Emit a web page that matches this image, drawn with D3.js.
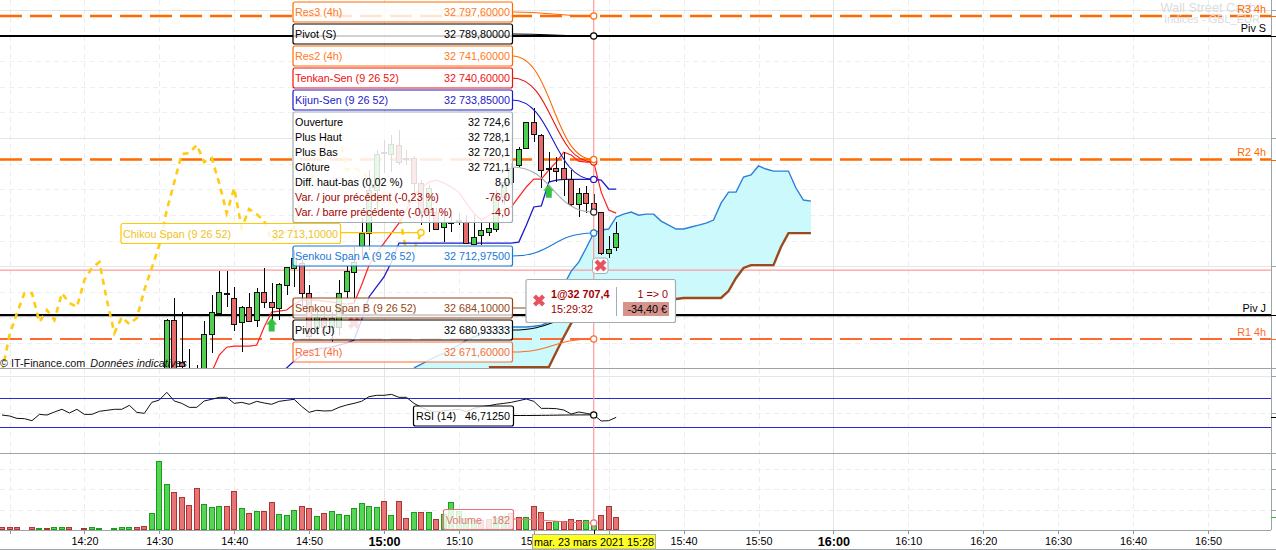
<!DOCTYPE html>
<html><head><meta charset="utf-8">
<script src="https://cdn.jsdelivr.net/npm/d3@7/dist/d3.min.js"></script>
<style>
html,body{margin:0;padding:0;background:#fff;overflow:hidden}
svg{display:block;font-family:"Liberation Sans",Arial,sans-serif}
text{font-size:10.8px}
</style></head><body><svg id="c" width="1276" height="550"></svg>
<script>
// ---------- DATA ----------
const levelR3=32797.6, levelPivS=32789.8, levelR2=32741.6, levelPivJ=32680.93333, levelR1=32671.6, levelPink=32698.5;
const candleStart=31; // minutes after 14:00
const candleOpen=[32653.6,32679.0,32662.6,32656.3,32657.1,32657.5,32673.5,32681.7,32689.1,32687.6,32678.2,32684.1,32679.0,32689.9,32686.0,32683.7,32692.6,32699.3,32701.2,32689.5,32676.3,32679.8,32676.3,32676.3,32690.3,32697.7,32707.9,32712.9,32729.7,32744.1,32743.8,32747.3,32742.2,32742.2,32732.4,32721.1,32721.1,32715.3,32717.2,32718.0,32717.2,32708.6,32712.1,32713.3,32714.5,32727.0,32732.8,32739.5,32746.1,32756.2,32751.2,32738.3,32738.3,32738.3,32734.0,32724.2,32728.5,32724.6,32721.1,32705.1,32707.5];
const candleHigh=[32679.4,32687.6,32682.1,32667.7,32661.4,32678.6,32688.8,32698.1,32698.1,32691.9,32684.5,32689.5,32691.5,32699.3,32693.4,32693.4,32699.7,32706.3,32702.4,32692.6,32682.9,32682.9,32682.1,32694.6,32700.0,32707.5,32718.8,32737.5,32745.3,32749.2,32751.2,32753.1,32745.3,32743.0,32733.6,32731.7,32722.7,32721.9,32719.9,32720.7,32719.9,32719.9,32717.2,32717.2,32729.7,32734.4,32740.2,32746.5,32756.2,32761.7,32751.6,32744.5,32742.6,32744.5,32737.5,32730.5,32731.3,32728.1,32721.1,32711.8,32717.2];
const candleLow=[32651.7,32649.7,32651.7,32655.5,32654.8,32653.6,32666.1,32680.9,32684.1,32674.7,32666.5,32678.6,32676.3,32683.7,32679.0,32679.0,32688.8,32691.9,32684.1,32671.2,32673.1,32673.9,32670.4,32673.1,32687.6,32685.6,32703.2,32706.3,32721.9,32736.3,32736.7,32739.5,32739.5,32728.5,32716.0,32713.3,32714.5,32709.4,32713.3,32716.0,32708.6,32708.2,32708.2,32711.8,32713.3,32723.8,32731.7,32738.7,32746.1,32748.4,32730.5,32732.8,32732.8,32727.4,32723.5,32719.2,32720.7,32720.1,32704.4,32703.2,32705.9];
const candleClose=[32679.0,32653.6,32661.0,32658.7,32658.7,32673.5,32682.1,32689.9,32689.5,32677.4,32684.1,32678.6,32689.9,32686.0,32684.1,32693.0,32699.7,32703.2,32689.5,32672.7,32680.1,32676.3,32679.8,32689.5,32698.1,32701.6,32712.9,32729.7,32743.8,32744.5,32747.7,32740.6,32742.4,32732.4,32721.1,32730.5,32714.5,32717.2,32717.2,32717.6,32709.0,32711.4,32714.1,32714.9,32727.8,32732.8,32738.3,32745.7,32756.2,32751.6,32737.5,32738.4,32737.1,32734.0,32724.2,32728.5,32724.6,32721.1,32705.1,32706.7,32712.9];

const tenkanStart=37;
const tenkan=[32658.7,32665.3,32668.4,32668.8,32668.8,32668.8,32669.2,32676.3,32682.1,32682.5,32682.9,32685.2,32686.8,32686.8,32686.8,32686.4,32686.0,32685.6,32685.2,32685.6,32692.6,32700.4,32705.1,32709.0,32712.9,32716.8,32721.9,32727.8,32730.5,32732.8,32733.6,32732.4,32730.9,32728.9,32724.6,32720.7,32718.0,32719.9,32721.1,32721.9,32723.1,32727.0,32730.9,32734.0,32734.0,32737.5,32740.6,32744.5,32743.4,32741.0,32740.6,32740.6,32728.9,32721.9,32720.7];
const kijunStart=46;
const kijun=[32657.5,32660.3,32663.0,32665.3,32667.3,32667.7,32668.0,32668.4,32669.2,32670.0,32671.2,32679.0,32688.0,32691.9,32695.8,32701.6,32709.0,32709.0,32709.0,32709.0,32709.0,32709.0,32709.0,32709.0,32709.0,32709.0,32709.0,32709.0,32709.0,32709.0,32709.0,32709.0,32709.4,32716.0,32723.1,32723.5,32732.8,32733.6,32733.85,32733.85,32733.85,32733.85,32733.85,32733.6,32730.1,32730.1];
const senkouStart=64;
const senkouA=[32660.3,32661.8,32663.4,32664.9,32666.1,32667.7,32669.2,32671.2,32672.4,32673.5,32674.3,32675.1,32675.5,32676.3,32676.3,32676.3,32676.6,32677.0,32678.2,32682.1,32692.6,32698.1,32701.6,32707.1,32712.975,32714.1,32714.5,32719.2,32720.3,32721.1,32719.9,32720.3,32720.3,32717.6,32716.0,32714.5,32714.5,32715.3,32716.0,32716.8,32718.0,32724.6,32728.9,32728.9,32734.8,32735.6,32739.1,32737.9,32737.1,32737.1,32737.1,32730.5,32725.8,32725.4];
const senkouB=[32658.7,32658.7,32658.7,32658.7,32658.7,32658.7,32658.7,32658.7,32658.7,32658.7,32660.6,32660.6,32660.6,32660.6,32660.6,32660.6,32660.6,32660.6,32660.6,32666.5,32672.4,32677.8,32680.5,32682.1,32684.1,32684.1,32684.1,32684.1,32684.1,32684.1,32684.1,32684.1,32684.1,32684.1,32685.6,32687.2,32687.6,32687.6,32687.6,32687.6,32687.6,32687.6,32690.3,32695.4,32699.3,32700.4,32700.4,32700.4,32700.4,32707.5,32712.9,32712.9,32712.9,32712.9];
const chikouStart=9;
const chikou=[32658.7,32673.1,32681.7,32689.5,32689.5,32678.2,32682.9,32679.0,32689.5,32685.6,32684.1,32694.6,32699.3,32701.6,32686.8,32673.9,32680.1,32677.4,32679.8,32690.7,32699.3,32708.2,32721.9,32732.8,32743.8,32744.1,32747.3,32740.6,32742.2,32732.4,32720.7,32730.5,32714.9,32722.3,32720.3,32717.6,32709.8,32711.4,32713.7,32714.9,32727.8,32732.8,32738.3,32745.7,32756.2,32751.6,32737.5,32738.4,32737.1,32734.0,32724.2,32728.5,32724.6,32721.1,32705.1,32706.7,32713.1];

const rsiStart=9;
const rsi=[46.5,45.2,41.9,41.5,38.7,47.4,46.5,50.7,54.4,49.3,54.4,47.4,47.4,51.6,53,54.4,54.4,59.9,50.2,48.8,64,67.2,77.8,65.9,62.6,57.1,57.1,65.9,68.2,70.9,70.9,62.6,64,61.3,65.4,63.1,61.3,65.4,66.8,68.2,58.5,50.2,53,52.1,52.5,57.1,60.3,62.6,65.4,71.8,73.7,73.7,75,70.9,70.9,62.6,57.1,52.5,51.1,52.5,53.4,54.4,51.1,55.7,58,59.4,61.3,62.6,64,66.3,68.6,65.4,55.7,55.7,55.3,53.4,47.9,50.7,48.8,46.7125,38.3,38.7,43.3];
const rsiBands=[70,30];
const volumeStart=9;
const volume=[70,70,70,20,70,45,45,70,70,70,20,45,70,45,20,45,70,70,70,105,435,1800,1190,990,850,650,1085,670,590,625,625,1030,565,435,485,485,720,410,380,510,625,565,355,435,485,410,380,565,695,615,590,745,380,745,305,460,460,460,280,410,720,485,305,260,260,285,310,370,450,340,340,615,460,200,225,225,280,250,250,182,380,615,330];
const volumeDir="rrrrrgrggrgrggggggrrgggrrrrgggrrgrgrrgggrrgrgggggggrgrrgrgrgggggrrggrrgrrrgrrrgg".split("");
const tickMinutes=d3.range(10,171,10);
const tickLabels=["","14:20","14:30","14:40","14:50","15:00","15:10","15:20","","15:40","15:50","16:00","16:10","16:20","16:30","16:40","16:50"];
const priceGridMajor=[32800,32750,32700];
const priceGridMinor=[32790,32780,32770,32760,32740,32730,32720,32710,32690,32680,32670];
const rsiGridSolid=[100], rsiGridDash=[50];
const volGrid=[520,1066,1586];
const ohlcRows=[["Ouverture","32 724,6"],["Plus Haut","32 728,1"],["Plus Bas","32 720,1"],["Clôture","32 721,1"],["Diff. haut-bas (0,02 %)","8,0"],["Var. / jour précédent (-0,23 %)","-76,0"],["Var. / barre précédente (-0,01 %)","-4,0"]];
const cursorMinute=88, tradeMinute=89, tradePrice=32707.4, buyMinutes=[45,82], buyPrice=[32679.8,32732.0], ghostSell=[[56,32677.8]];
const closeAtCursor=32721.1, volCursor=182, rsiCursor=46.7125, senkouACursor=32712.975, senkouBCursor=32684.1, tenkanCursor=32740.6, kijunCursor=32733.85, chikouEnd=65;

// ---------- SCALES ----------
const W=1271, paneBottom=368, rsiBottom=453, volBottom=530;
const x=d3.scaleLinear([60,120],[384,833.4]);
const y=d3.scaleLinear([32797.6,32671.6],[16,339]);
const yR=d3.scaleLinear([0,100],[448.75,376.25]);
const yV=d3.scaleLinear([0,1800],[volBottom,461]);
const X=m=>Math.round(x(m));
const svg=d3.select("#c");
const defs=svg.append("defs");
defs.append("clipPath").attr("id","main").append("rect").attr("x",0).attr("y",0).attr("width",W).attr("height",paneBottom);

function hline(g,yy,color,w,dash){g.append("line").attr("x1",0).attr("x2",W).attr("y1",yy).attr("y2",yy).attr("stroke",color).attr("stroke-width",w).attr("stroke-dasharray",dash||null);}
const grid=svg.append("g").attr("shape-rendering","crispEdges");
// vertical grid
tickMinutes.forEach(m=>{
  const h=m%60===0;
  grid.append("line").attr("x1",X(m)+.5).attr("x2",X(m)+.5).attr("y1",0).attr("y2",volBottom).attr("stroke",h?"#e4e4e4":"#ececec").attr("stroke-dasharray",h?null:"5,4");
});
priceGridMajor.forEach(v=>hline(grid,Math.round(y(v))+.5,"#e6e6e6",1.5));
priceGridMinor.forEach(v=>hline(grid,Math.round(y(v))+.5,"#efefef",1,"5,4"));
rsiGridSolid.forEach(v=>hline(grid,Math.round(yR(v))+.5,"#e6e6e6",1));
rsiGridDash.forEach(v=>hline(grid,Math.round(yR(v))+.5,"#ececec",1,"5,4"));
volGrid.forEach(v=>hline(grid,Math.round(yV(v))+.5,"#ececec",1,"5,4"));

// ---------- MAIN PANE ----------
const main=svg.append("g").attr("clip-path","url(#main)");
const pts=(arr,start)=>arr.map((v,i)=>[start+i,v]);
const line=d3.line().x(d=>x(d[0])).y(d=>y(d[1]));
const area=d3.area().x((d,i)=>x(senkouStart+i)).y0((d,i)=>y(senkouB[i])).y1(d=>y(d));
main.append("path").attr("d",area(senkouA)).attr("fill","#ccf9fc");
const drawLine=(arr,start,color,w,dash)=>main.append("path").attr("d",line(pts(arr,start))).attr("fill","none").attr("stroke",color).attr("stroke-width",w).attr("stroke-dasharray",dash||null);

// levels
hline(main,y(levelR3),"#ff6a00",2.6,"22,8");
hline(main,y(levelR2),"#ff6a00",2.6,"22,8");
hline(main,y(levelR1),"#ff6a30",2,"22,8");
main.selectAll("line.k").data([levelPivS,levelPivJ]).join("line").attr("x1",0).attr("x2",W).attr("y1",d=>y(d)).attr("y2",d=>y(d)).attr("stroke","#000").attr("stroke-width",2.2);
hline(main,y(levelPink),"#ff9a9a",1.3);

drawLine(chikou,chikouStart,"#ffcc10",2.6,"6,5");
drawLine(tenkan,tenkanStart,"#ff2020",1.2);
drawLine(kijun,kijunStart,"#1a1acb",1.3);
drawLine(senkouA,senkouStart,"#2a80d8",1.4);
drawLine(senkouB.slice(10),senkouStart+10,"#9c4a1c",2.4);

// candles
const cg=main.append("g").attr("shape-rendering","crispEdges");
candleOpen.forEach((o,i)=>{
  const m=candleStart+i, c=candleClose[i], cx=X(m);
  cg.append("line").attr("x1",cx+.5).attr("x2",cx+.5).attr("y1",y(candleHigh[i])).attr("y2",y(candleLow[i])).attr("stroke","#000");
  const t=Math.min(y(o),y(c)), b=Math.max(y(o),y(c));
  cg.append("rect").attr("x",cx-2.5+.0).attr("y",Math.round(t)+.5).attr("width",5).attr("height",Math.max(1,Math.round(b-t)))
    .attr("fill",c>=o?"#4fcf4f":"#e56c6c").attr("stroke","#111");
});

// arrows & markers
const ag=svg.append("g");
buyMinutes.forEach((m,i)=>{
  const cx=x(m), ty=y(buyPrice[i]);
  ag.append("path").attr("d",d3.line()([[cx,ty],[cx+5.5,ty+6.5],[cx+3,ty+6.5],[cx+3,ty+13.5],[cx-3,ty+13.5],[cx-3,ty+6.5],[cx-5.5,ty+6.5]])+"Z").attr("fill","#33c23f");
});
function cross(g,cx,cy){
  g.append("path").attr("d",`M${cx-4.5},${cy-4.5}L${cx+4.5},${cy+4.5}M${cx+4.5},${cy-4.5}L${cx-4.5},${cy+4.5}`).attr("stroke","#e8525f").attr("stroke-width",4.2).attr("fill","none");
}
ghostSell.forEach(d=>cross(ag,x(d[0])+.0,y(d[1])));

// ---------- RSI PANE ----------
const rsiG=svg.append("g");
rsiBands.forEach(v=>hline(rsiG,Math.round(yR(v))+.5,"#2a2ad0",1.2));
rsiG.append("path").attr("d",d3.line().x((d,i)=>x(rsiStart+i)).y(d=>yR(d))(rsi)).attr("fill","none").attr("stroke","#111").attr("stroke-width",1);

// ---------- VOLUME ----------
const vg=svg.append("g").attr("shape-rendering","crispEdges");
volume.forEach((v,i)=>{
  const cx=X(volumeStart+i), up=volumeDir[i]==="g";
  const top=Math.round(yV(v));
  vg.append("rect").attr("x",cx-2.5).attr("y",top+.5).attr("width",5).attr("height",volBottom-top-1)
    .attr("fill",up?"#55d455":"#e87575").attr("stroke",up?"#1a9e1a":"#a93535");
});

// ---------- AXES ----------
const ax=svg.append("g").attr("transform",`translate(0,${volBottom})`).attr("shape-rendering","crispEdges");
ax.call(d3.axisBottom(x).tickValues(tickMinutes).tickFormat((d,i)=>tickLabels[i]).tickSize(4).tickPadding(3));
ax.select(".domain").remove();
ax.selectAll(".tick line").attr("stroke","#8a9499");
ax.selectAll(".tick text").attr("fill","#000").attr("font-family",'"Liberation Sans",Arial,sans-serif')
  .style("font-size",d=>d%60===0?"12.6px":"10.8px").style("font-weight",d=>d%60===0?"bold":"normal");
const frame=svg.append("g").attr("shape-rendering","crispEdges");
[[0,W,paneBottom],[0,W,rsiBottom],[0,W,volBottom],[0,1276,549]].forEach(s=>frame.append("line").attr("x1",s[0]).attr("x2",s[1]).attr("y1",s[2]+.5).attr("y2",s[2]+.5).attr("stroke","#9aa5aa"));
frame.append("line").attr("x1",W+.5).attr("x2",W+.5).attr("y1",0).attr("y2",volBottom).attr("stroke","#9aa5aa");
const axisMarks=[...priceGridMajor.map(v=>[y(v),"#9aa5aa"]),[y(levelR3),"#ff6a00"],[y(levelPivS),"#000"],[y(levelR2),"#ff6a00"],[y(levelPivJ),"#000"],[y(levelR1),"#ff6a30"],[yR(100),"#9aa5aa"],[yR(50),"#9aa5aa"],[yR(rsi[rsi.length-1]),"#000"],[paneBottom,"#9aa5aa"],[rsiBottom,"#9aa5aa"],...volGrid.map(v=>[yV(v),"#9aa5aa"]),[yV(volume[volume.length-1]),"#3ab53a"]];
axisMarks.forEach(a=>frame.append("line").attr("x1",W).attr("x2",1276).attr("y1",Math.round(a[0])+.5).attr("y2",Math.round(a[0])+.5).attr("stroke",a[1]));

// right-hand level names and watermark
const wm=svg.append("g").attr("fill","#dcdcdc").attr("text-anchor","end");
wm.append("text").attr("x",1256).attr("y",12).style("font-size","12.8px").text("Wall Street Cash");
wm.append("text").attr("x",1260).attr("y",23).style("font-size","11px").text("Indices - GBL_EUR");
[["R3 4h",levelR3,"#ff6a00"],["Piv S",levelPivS,"#000"],["R2 4h",levelR2,"#ff6a00"],["Piv J",levelPivJ,"#000"],["R1 4h",levelR1,"#ff6a30"]].forEach(d=>
  svg.append("text").attr("x",1266).attr("y",y(d[1])-3.5).attr("text-anchor","end").attr("fill",d[2]).text(d[0]));
const cr=svg.append("text").attr("x",0).attr("y",366.5).attr("fill","#111").style("font-size","10.8px");
cr.append("tspan").text("© IT-Finance.com ");
cr.append("tspan").attr("dx",2).attr("font-style","italic").text("Données indicatives");

// ---------- CROSSHAIR ----------
const cursorX=x(cursorMinute);
svg.append("line").attr("x1",cursorX).attr("x2",cursorX).attr("y1",0).attr("y2",volBottom).attr("stroke","#ff9a9a").attr("stroke-width",1.2);
svg.append("line").attr("x1",X(cursorMinute)+.5).attr("x2",X(cursorMinute)+.5).attr("y1",volBottom).attr("y2",volBottom+4).attr("stroke","#000");

// ---------- LEADERS ----------
const lk=d3.linkHorizontal().x(d=>d[0]).y(d=>d[1]);
const rightEdge=512;
const labels=[
 {n:"Res3 (4h)",v:"32 797,60000",col:"#ff7a1a",bd:"#ff6a00",top:2,ty:y(levelR3)},
 {n:"Pivot (S)",v:"32 789,80000",col:"#000",bd:"#000",top:24,ty:y(levelPivS)},
 {n:"Res2 (4h)",v:"32 741,60000",col:"#ff7a1a",bd:"#ff6a00",top:46,ty:y(levelR2)},
 {n:"Tenkan-Sen (9 26 52)",v:"32 740,60000",col:"#ee1111",bd:"#ee1111",top:68,ty:y(tenkanCursor)},
 {n:"Kijun-Sen (9 26 52)",v:"32 733,85000",col:"#1a1acb",bd:"#1a1acb",top:90,ty:y(kijunCursor)},
 {n:"Senkou Span A (9 26 52)",v:"32 712,97500",col:"#1a78d6",bd:"#1a78d6",top:246,ty:y(senkouACursor)},
 {n:"Senkou Span B (9 26 52)",v:"32 684,10000",col:"#964414",bd:"#964414",top:298,ty:y(senkouBCursor)},
 {n:"Pivot (J)",v:"32 680,93333",col:"#000",bd:"#000",top:320,ty:y(levelPivJ)},
 {n:"Res1 (4h)",v:"32 671,60000",col:"#ff6a30",bd:"#ff6a30",top:342,ty:y(levelR1)}
];
const leaders=svg.append("g").attr("fill","none");
labels.forEach(l=>leaders.append("path").attr("d",lk({source:[rightEdge,l.top+10],target:[cursorX,l.ty]})).attr("stroke",l.bd).attr("stroke-width",1.1));
leaders.append("path").attr("d",lk({source:[rightEdge,167],target:[cursorX,y(closeAtCursor)]})).attr("stroke","#aab0b0").attr("stroke-width",1.2);
leaders.append("path").attr("d",lk({source:[513,415.5],target:[cursorX,yR(rsiCursor)]})).attr("stroke","#000").attr("stroke-width",1);
leaders.append("path").attr("d",lk({source:[513,519],target:[cursorX,yV(volCursor)]})).attr("stroke","#e87575").attr("stroke-width",1.1);
leaders.append("line").attr("x1",340).attr("x2",x(chikouEnd)-3).attr("y1",y(32713.1)).attr("y2",y(32713.1)).attr("stroke","#ffc800").attr("stroke-width",1.2);

// cursor circles
[[y(levelR3),"#ff6a00"],[y(levelPivS),"#000"],[y(tenkanCursor),"#ee1111"],[y(levelR2),"#ff6a00"],[y(kijunCursor),"#1a1acb"],[y(closeAtCursor),"#222"],[y(senkouACursor),"#1a78d6"],[y(levelR1),"#ff6a30"],[yR(rsiCursor),"#000"],[yV(volCursor),"#e87575"]]
 .forEach(c=>svg.append("circle").attr("cx",cursorX).attr("cy",c[0]).attr("r",3.1).attr("fill","#fff").attr("stroke",c[1]).attr("stroke-width",1.2));
svg.append("circle").attr("cx",x(chikouEnd)-.5).attr("cy",y(32713.1)).attr("r",3.1).attr("fill","#fff").attr("stroke","#ffc800").attr("stroke-width",1.4);

// ---------- LABELS ----------
function box(g,bx,by,bw,bh,stroke,op){g.append("rect").attr("x",bx+.5).attr("y",by+.5).attr("width",bw).attr("height",bh).attr("rx",2).attr("fill","#fff").attr("fill-opacity",op).attr("stroke",stroke).attr("stroke-width",1.2);}
const lg=svg.append("g");
labels.forEach(l=>{
  box(lg,292.5,l.top-.5,219.5,20,l.bd,.82);
  lg.append("text").attr("x",295).attr("y",l.top+14).attr("fill",l.col).text(l.n);
  lg.append("text").attr("x",510).attr("y",l.top+14).attr("text-anchor","end").attr("fill",l.col).text(l.v);
});
box(lg,120.5,223,219.5,20,"#ffc800",.82);
lg.append("text").attr("x",123).attr("y",237.5).attr("fill","#f0c21c").text("Chikou Span (9 26 52)");
lg.append("text").attr("x",338).attr("y",237.5).attr("text-anchor","end").attr("fill","#f0c21c").text("32 713,10000");
box(lg,413,405.5,100,20,"#000",.82);
lg.append("text").attr("x",416).attr("y",420).attr("fill","#000").text("RSI (14)");
lg.append("text").attr("x",510).attr("y",420).attr("text-anchor","end").attr("fill","#000").text("46,71250");
box(lg,443,509,70,20,"#e87575",.82);
lg.append("text").attr("x",446).attr("y",523.5).attr("fill","#e87575").text("Volume");
lg.append("text").attr("x",510).attr("y",523.5).attr("text-anchor","end").attr("fill","#e87575").text("182");

// OHLC panel
box(lg,292.5,111.5,219.5,110.5,"#a3aeb3",.86);
ohlcRows.forEach((r,i)=>{
  const c=i>=5?"#a00000":"#000", b=126+i*15;
  lg.append("text").attr("x",295).attr("y",b).attr("fill",c).text(r[0]);
  lg.append("text").attr("x",510).attr("y",b).attr("text-anchor","end").attr("fill",c).text(r[1]);
});

// trade markers
const tradeG=svg.append("g");
tradeG.append("rect").attr("x",592.5).attr("y",258).attr("width",15.5).attr("height",15.5).attr("rx",3).attr("fill","#fff").attr("fill-opacity",.9).attr("stroke","#a3aeb3");
cross(tradeG,x(tradeMinute)-.7,265.5);
tradeG.append("rect").attr("x",526).attr("y",279.5).attr("width",149.5).attr("height",43).attr("rx",2).attr("fill","#fff").attr("stroke","#a3aeb3").attr("stroke-width",1.2);
cross(tradeG,539,300.5);
tradeG.append("text").attr("x",551).attr("y",298).attr("fill","#a00000").attr("font-weight","bold").text("1@32 707,4");
tradeG.append("text").attr("x",551).attr("y",313).attr("fill","#a00000").text("15:29:32");
tradeG.append("line").attr("x1",616.5).attr("x2",616.5).attr("y1",287).attr("y2",316).attr("stroke","#a3aeb3");
tradeG.append("text").attr("x",668).attr("y",298).attr("text-anchor","end").attr("fill","#a00000").text("1 => 0");
tradeG.append("rect").attr("x",623).attr("y",302).attr("width",46).attr("height",14).attr("fill","#d5938c");
tradeG.append("text").attr("x",667).attr("y",313).attr("text-anchor","end").attr("fill","#000").text("-34,40 €");

// date box
const dt=svg.append("g");
dt.append("rect").attr("x",532.5).attr("y",534.5).attr("width",123).attr("height",14.5).attr("fill","#ffff20").attr("stroke","#a3aeb3");
dt.append("text").attr("x",594).attr("y",546).attr("text-anchor","middle").attr("fill","#000").text("mar. 23 mars 2021 15:28");
</script></body></html>
